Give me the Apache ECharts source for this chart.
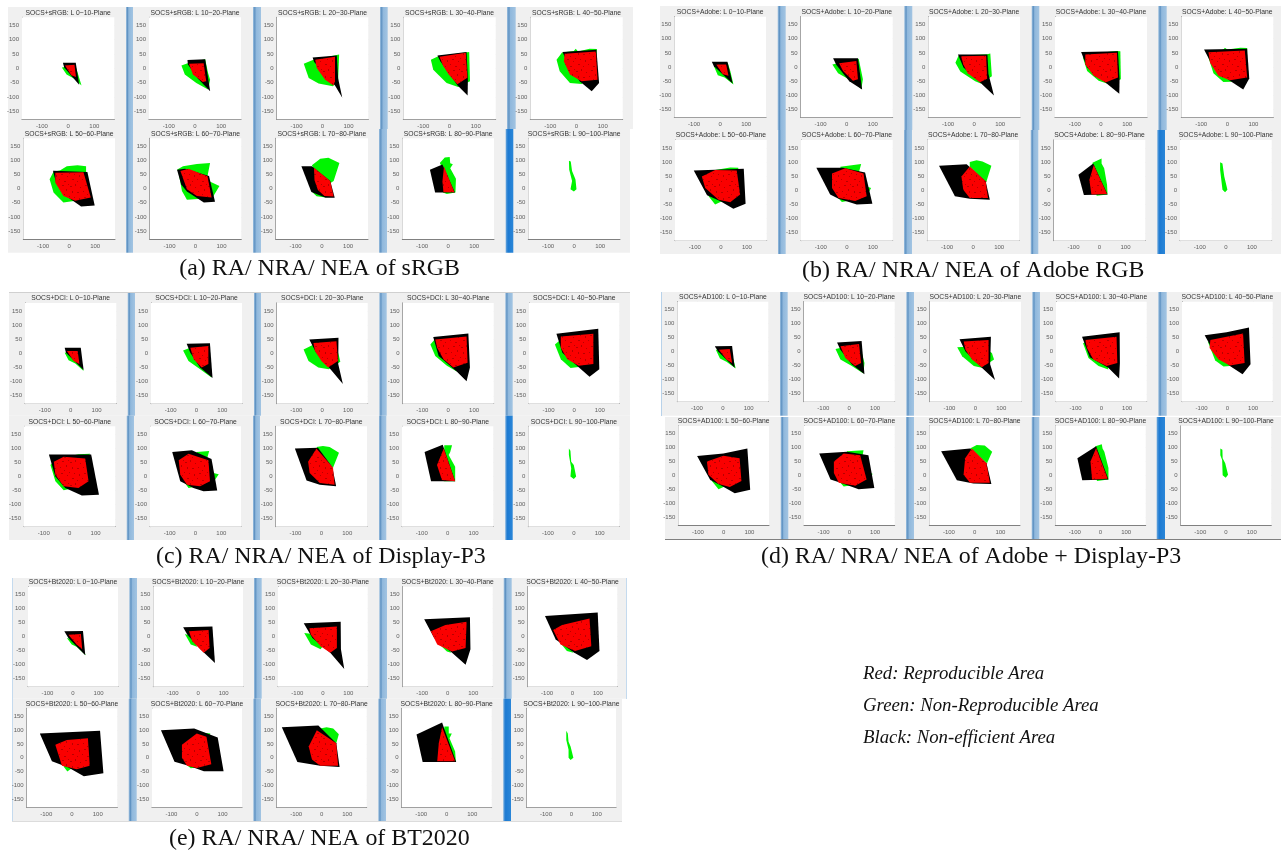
<!DOCTYPE html>
<html><head><meta charset="utf-8">
<style>html,body{margin:0;padding:0;background:#fff}#c{width:1281px;height:852px}</style>
<script src="https://cdn.jsdelivr.net/npm/echarts@6/dist/echarts.min.js"></script>
</head><body><div id="c"></div>
<script>
const planes = ['0~10','10~20','20~30','30~40','40~50','50~60','60~70','70~80','80~90','90~100'];
const yTicks = [-150,-100,-50,0,50,100,150];
const xTicks = [-100,0,100];
const groupNames = ['sRGB','Adobe','DCI','AD100','Bt2020'];
const captions = ['(a) RA/ NRA/ NEA of sRGB','(b) RA/ NRA/ NEA of Adobe RGB','(c) RA/ NRA/ NEA of Display-P3','(d) RA/ NRA/ NEA of Adobe + Display-P3','(e) RA/ NRA/ NEA of BT2020'];
const notes = ['Red: Reproducible Area','Green: Non-Reproducible Area','Black: Non-efficient Area'];

const sRGB_green = [
[[-24,3],[-6,-22],[22,-36],[51,-60],[36,-15],[27,10]],
[[-52,10],[-39,-22],[5,-51],[50,-74],[58,-40],[50,-16],[39,32],[-20,20]],
[[-72,16],[-53,-34],[-15,-53],[40,-63],[60,-42],[64,48],[-35,30]],
[[-71,30],[-62,-5],[-11,-51],[33,-65],[78,-45],[75,57],[-43,42]],
[[-76,30],[-64,-10],[-25,-51],[20,-55],[70,0],[78,67],[50,68],[6,59],[-3,68],[-10,60],[-55,55]],
[[-75,33],[-60,-14],[-22,-49],[25,-43],[50,0],[65,56],[65,79],[32,83],[-9,79],[-34,65],[-60,60]],
[[-65,56],[-52,-8],[-33,-39],[10,-37],[69,-26],[92,9],[55,25],[46,44],[56,91],[5,87],[-48,79],[-70,68]],
[[-38,83],[-6,106],[25,109],[67,91],[45,27],[33,20],[15,-31],[-20,-27],[-35,-14],[-10,30]],
[[-32,91],[-13,110],[6,112],[8,90],[18,86],[8,72],[30,35],[28,-14],[-5,-19],[-20,-14],[-20,70]],
[[-20,99],[-13,96],[-8,62],[5,33],[9,-2],[-1,-10],[-14,-2],[-8,27],[-19,67]]];
const sRGB_black = [
[[-20,19],[29,19],[42,-57],[-15,3]],
[[-29,29],[39,32],[58,-80],[10,-35],[-27,13]],
[[-38,38],[55,45],[60,-35],[76,-103],[48,-60],[-32,22]],
[[-46,45],[65,57],[70,-40],[69,-95],[31,-60],[-35,25]],
[[-53,57],[76,65],[86,-51],[58,-80],[12,-45],[-40,30]],
[[-62,63],[70,59],[98,-60],[46,-63],[-5,-30],[-50,20]],
[[-71,67],[-40,70],[52,45],[75,-46],[32,-49],[-33,-10],[-55,15]],
[[-78,79],[-38,79],[32,27],[49,-32],[15,-32],[-40,-12]],
[[-70,67],[-22,85],[26,-14],[-50,-14]],[]];
const sRGB_red = [
[[-12,10],[24,12],[30,-30],[12,-24]],
[[-23,16],[33,18],[43,-45],[30,-48],[-8,-22]],
[[-28,30],[48,40],[48,-45],[42,-60],[10,-40],[-22,1]],
[[-38,40],[62,54],[68,-33],[30,-56],[-3,-22],[-25,10]],
[[-45,51],[74,59],[80,-40],[19,-45],[-25,-22],[-48,24]],
[[-53,56],[55,58],[83,-31],[23,-43],[-22,-26],[-53,21]],
[[-58,62],[-27,70],[46,44],[62,-31],[5,-26],[-33,-2]],
[[-30,74],[32,27],[45,-28],[10,-26],[-15,-5],[-28,30]],
[[-16,78],[24,-13],[-18,-13],[-22,25]],[]];

const adobe_green = [
[[-24,3],[-9,-29],[17,-37],[51,-62],[39,-14],[29,15]],
[[-55,9],[-33,-22],[18,-49],[56,-78],[62,-43],[46,29],[0,20]],
[[-72,15],[-53,-16],[4,-50],[25,-58],[68,-33],[62,48],[50,45],[-60,40]],
[[-69,33],[-53,-14],[-9,-49],[29,-60],[76,-43],[74,56],[61,57],[-60,45]],
[[-76,44],[-53,-22],[-15,-53],[15,-52],[75,0],[76,67],[50,68],[0,62],[-9,68],[-15,62]],
[[-47,-21],[-22,-50],[25,-30],[67,75],[67,80],[36,81],[-22,72],[-30,20]],
[[-38,-23],[-19,-41],[50,-30],[83,-9],[93,8],[76,14],[45,60],[55,93],[-25,83],[-20,40]],
[[-13,100],[13,106],[36,102],[70,87],[50,28],[-13,84]],
[[-27,98],[8,113],[8,95],[18,78],[29,20],[31,-15],[-11,-19]],
[[-22,99],[-13,95],[-6,49],[6,2],[-3,-7],[-13,2],[-22,72]]];
const adobe_black = [
[[-32,19],[28,19],[48,-58],[-24,3]],
[[-52,31],[43,31],[59,-80],[10,-50],[-40,8]],
[[-62,44],[51,44],[55,-25],[76,-101],[23,-55],[-41,-2]],
[[-76,53],[65,56],[71,-43],[70,-95],[17,-55],[-53,-2]],
[[-89,62],[76,65],[84,-41],[61,-80],[10,-49],[-53,-2]],
[[-104,70],[88,76],[95,-47],[48,-65],[-3,-38],[-53,-17]],
[[-117,80],[-15,80],[70,63],[98,-47],[38,-50],[-32,-30],[-64,-15]],
[[-131,87],[-25,92],[48,32],[64,-33],[-13,-30],[-70,-21]],
[[-81,55],[-24,95],[31,-15],[-60,-16]],[]];
const adobe_red = [
[[-15,9],[23,9],[32,-31],[10,-26]],
[[-29,13],[37,21],[43,-43],[24,-49],[-14,-14]],
[[-50,38],[46,40],[50,-42],[22,-54],[-25,-22],[-42,10]],
[[-60,44],[61,50],[65,-37],[17,-55],[-28,-31],[-60,9]],
[[-72,52],[67,58],[76,-37],[10,-47],[-34,-31],[-66,15]],
[[-73,49],[-22,72],[61,70],[74,-15],[36,-42],[-9,-33],[-60,8]],
[[-57,60],[-6,78],[64,60],[76,-21],[32,-38],[-32,-27],[-57,8]],
[[-45,49],[-13,84],[48,32],[57,-27],[-13,-27],[-38,2]],
[[-22,90],[29,-13],[-31,-15],[-39,37]],[]];

const dci_green = [
[[-23,2],[-8,-24],[18,-36],[50,-62],[37,-21],[25,10]],
[[-52,10],[-31,-27],[14,-56],[58,-85],[39,8],[-24,20]],
[[-72,14],[-53,-27],[-15,-50],[25,-56],[70,-30],[65,-9],[50,40],[-35,30]],
[[-69,31],[-50,-9],[-5,-44],[33,-64],[40,0],[-50,52]],
[[-75,31],[-52,-21],[-14,-52],[18,-48],[0,20],[-52,49]],
[[-74,41],[-55,-17],[-23,-49],[20,-40],[60,50],[79,81],[34,79],[-55,60]],
[[-46,-17],[-27,-41],[40,-30],[75,-12],[90,8],[69,12],[43,58],[53,90],[5,87],[-10,40]],
[[-19,105],[6,108],[32,105],[68,84],[45,31],[-6,90]],
[[-13,111],[17,111],[10,87],[4,76],[29,35],[29,-17],[-15,-17]],
[[-19,99],[-13,91],[-10,52],[0,41],[9,0],[0,-9],[-13,0],[-10,29],[-19,76]]];
const dci_black = [
[[-23,20],[39,20],[50,-59],[-18,2]],
[[-38,34],[52,36],[62,-87],[14,-50],[-24,2]],
[[-50,49],[63,55],[62,-38],[80,-108],[28,-52],[-25,5]],
[[-58,58],[78,70],[84,-50],[71,-99],[33,-64],[-37,-9]],
[[-69,69],[94,87],[98,-56],[60,-83],[11,-44],[-46,2]],
[[-80,78],[83,78],[113,-65],[47,-67],[-17,-41],[-55,0]],
[[-90,87],[-14,93],[62,62],[84,-50],[31,-52],[-8,-41],[-59,-17]],
[[-102,99],[-13,102],[42,35],[57,-35],[-6,-29],[-57,-14]],
[[-89,87],[-19,113],[29,-17],[-64,-17]],[]];
const dci_red = [
[[-14,8],[27,8],[34,-38],[11,-27]],
[[-24,20],[46,26],[46,-38],[20,-50],[-11,-21]],
[[-34,37],[55,43],[61,-27],[23,-50],[-3,-27],[-28,8]],
[[-50,49],[71,60],[75,-33],[20,-50],[-18,-21],[-43,20]],
[[-52,60],[75,69],[75,-38],[18,-44],[-27,-21],[-52,20]],
[[-61,52],[-23,70],[60,64],[73,-17],[34,-41],[-23,-35],[-55,6]],
[[-65,58],[-27,81],[50,58],[56,-17],[18,-35],[-33,-29],[-59,6]],
[[-51,52],[-19,99],[45,31],[51,-29],[-6,-23],[-45,12]],
[[-15,99],[29,-17],[-22,-12],[-41,41]],[]];

const ad100_green = [
[[-27,7],[-11,-24],[14,-36],[50,-60],[36,-10],[10,10]],
[[-53,10],[-34,-28],[10,-51],[55,-78],[59,-40],[48,1],[0,20]],
[[-70,16],[-51,-16],[-6,-51],[25,-57],[72,-28],[64,-5],[20,20]],
[[-71,30],[-50,-22],[-11,-51],[27,-63],[20,0],[-50,40]],
[[-76,36],[-47,-31],[-15,-53],[10,-51],[-20,10]],
[[-46,-20],[-20,-49],[10,-37],[-20,0]],
[[-41,-20],[-22,-40],[50,-30],[84,-8],[90,6],[80,9],[51,70],[55,91],[-9,87],[-10,40]],
[[-18,97],[8,110],[39,108],[68,85],[48,44]],
[[-20,105],[5,112],[8,97],[15,85],[31,27],[31,-14],[-14,-20]],
[[-22,97],[-14,93],[-13,62],[-3,44],[8,3],[-1,-8],[-13,1],[-15,56],[-22,73]]];
const ad100_black = [
[[-31,19],[36,20],[46,-57],[-18,1]],
[[-47,33],[48,38],[59,-80],[10,-45],[-34,7]],
[[-61,44],[60,53],[57,-45],[76,-101],[25,-57],[-38,1]],
[[-75,53],[71,69],[72,-40],[69,-95],[27,-57],[-45,-20]],
[[-88,59],[-3,69],[84,86],[90,-45],[59,-80],[10,-51],[-50,-5]],
[[-103,70],[-1,79],[92,97],[103,-51],[43,-64],[-8,-37],[-52,-16]],
[[-117,79],[-9,85],[74,73],[97,-45],[36,-49],[-34,-26],[-73,-14]],
[[-130,87],[-18,97],[46,44],[65,-31],[-5,-29],[-69,-17]],
[[-90,62],[-17,105],[31,-14],[-71,-17]],[]];
const ad100_red = [
[[-15,7],[27,10],[36,-40],[14,-28]],
[[-34,19],[38,27],[46,-40],[23,-51],[-15,-22]],
[[-45,36],[51,42],[51,-40],[25,-55],[-13,-28],[-38,7]],
[[-62,42],[59,53],[62,-40],[20,-51],[-31,-28],[-56,13]],
[[-66,42],[61,65],[67,-40],[10,-49],[-34,-28],[-69,13]],
[[-65,50],[-1,71],[62,62],[69,-20],[24,-41],[-20,-31],[-59,3]],
[[-60,50],[-22,79],[42,73],[67,-14],[23,-37],[-41,-26],[-60,9]],
[[-37,62],[-11,97],[46,44],[59,-26],[-18,-26],[-43,3]],
[[-17,99],[28,-12],[-33,-14],[-39,50]],[]];

const bt2020_green = [
[[-24,-5],[-5,-28],[14,-36],[50,-66],[43,-51],[0,-10]],
[[-52,10],[-29,-28],[-4,-36],[-20,0]],
[[-73,13],[-47,-28],[-9,-45],[3,-30],[-40,10]],
[[-41,-20],[-3,-53],[13,-57],[0,-30]],
[[-50,-20],[-22,-51],[4,-57],[-20,-25]],
[[-33,-31],[-18,-49],[-1,-38],[-15,-20]],
[[-37,-29],[-24,-38],[-8,-35],[30,30],[50,79],[52,87],[24,90],[0,40]],
[[-6,105],[19,110],[45,105],[67,85],[57,52],[-6,87]],
[[-9,113],[8,113],[8,87],[20,87],[11,70],[33,23],[36,-15],[-18,-15]],
[[-20,97],[-14,87],[-11,58],[-3,41],[8,0],[-3,-8],[-11,0],[-11,29],[-20,64]]];
const bt2020_black = [
[[-34,19],[39,20],[48,-66],[-18,-5]],
[[-59,34],[56,36],[66,-94],[9,-45],[-42,7]],
[[-75,48],[70,53],[71,-45],[84,-115],[29,-57],[-41,-5]],
[[-92,62],[87,69],[89,-45],[70,-100],[17,-57],[-53,-5]],
[[-108,74],[99,86],[106,-51],[57,-83],[4,-55],[-66,-10]],
[[-125,87],[109,97],[122,-56],[46,-66],[-14,-35],[-78,-12]],
[[-141,99],[-11,105],[81,73],[104,-48],[27,-48],[-33,-29],[-88,-14]],
[[-156,110],[-13,116],[57,52],[70,-33],[-6,-29],[-95,-15]],
[[-118,84],[-18,127],[37,-15],[-94,-15]],[]];
const bt2020_red = [
[[-18,7],[31,10],[36,-45],[14,-28]],
[[-36,19],[41,24],[45,-40],[22,-57],[-23,-16]],
[[-53,30],[55,36],[55,-40],[29,-57],[-9,-34],[-47,7]],
[[-66,19],[-9,42],[74,53],[70,-40],[17,-53],[-41,-28]],
[[-76,24],[-41,42],[67,65],[74,-34],[10,-51],[-47,-28]],
[[-65,47],[-20,64],[62,70],[69,-29],[18,-41],[-39,-29]],
[[-59,47],[-1,87],[37,76],[56,-23],[-1,-37],[-39,-29],[-59,0]],
[[-51,41],[-19,99],[57,52],[64,-29],[-6,-29],[-38,-6]],
[[-18,110],[33,-12],[-37,-12],[-31,52]],[]];

const layers = [
 [sRGB_green,sRGB_black,sRGB_red],[adobe_green,adobe_black,adobe_red],[dci_green,dci_black,dci_red],
 [ad100_green,ad100_black,ad100_red],[bt2020_green,bt2020_black,bt2020_red]];

// A fixed, soft speckle tile for the texture of the red dots (style only)
const tile=document.createElement('canvas');tile.width=tile.height=23;
(function(){const c=tile.getContext('2d');c.fillStyle='#fa0000';c.fillRect(0,0,23,23);c.fillStyle='#b80000';
 [[1,2,2,1],[6,0,1,2],[11,3,1,1],[16,1,2,1],[20,5,1,2],[3,7,1,2],[8,8,2,1],[14,7,1,1],[18,10,1,1],[0,12,1,1],[5,13,1,1],[10,14,1,2],[15,13,2,1],[21,15,1,1],[3,18,2,1],[8,20,1,1],[13,18,1,1],[18,20,2,1],[22,0,1,1]]
 .forEach(p=>c.fillRect(p[0],p[1],p[2],p[3]));})();
const layerFills = ['#00f400','#000000',{image:tile,repeat:'repeat'}];

// Page layout (pixels), separate from the data
const layout = [
 {rows:[[17.3,119.3],[138.3,239]], xs:[[22,114.3],[149,241],[276.7,368.3],[403.3,495.7],[530.3,622.7],[23.3,115],[149.7,241.3],[275.7,368],[402.3,494],[528.3,620]],
  bg:[[8,7,633,129],[8,129,630,252.7]], sep:[[126,133],[253,261],[380,387.7],[507,515.7],[126,133],[253,261],[379,387],[505.7,513.3]]},
 {rows:[[16.7,117.3],[140,240.7]], xs:[[674.3,766],[800.7,892.7],[928.3,1020],[1055,1147],[1181.3,1273.3],[675,766.7],[801,892.7],[927.3,1019],[1053.7,1145.3],[1180,1271.7]],
  bg:[[660,6,1281,130],[660,130,1281,254]], sep:[[777.7,785.7],[904.3,912.3],[1031.7,1039.3],[1158.3,1166.7],[778,785.7],[904,912],[1030.7,1038.3],[1157.3,1165]]},
 {rows:[[303,403.7],[426.3,526.7]], xs:[[25,116.3],[151,242],[276.7,367.7],[402.7,493.7],[529,619.3],[24,115.3],[150,241],[275.7,367],[402,493.3],[528.3,619.3]],
  bg:[[9,292.3,630,415.7],[9,415.7,630,540]], sep:[[127.7,135],[254,261],[379.3,386.7],[505.3,512.7],[126.7,134],[253,260],[379,386.3],[505.3,512.7]]},
 {rows:[[301.7,401.7],[426,525]], xs:[[677.3,768.3],[803.7,894.7],[929.7,1021],[1056,1146.7],[1182,1272.7],[678.3,769],[804,894.7],[929.3,1020],[1055.3,1145.7],[1180.7,1271.3]],
  bg:[[661,292,1281,415.7],[665,417,1281,539]], sep:[[780,787.7],[906.3,914],[1032.3,1040],[1158.3,1166.7],[780.7,788.3],[906,914],[1031.7,1039.3],[1156.7,1165]]},
 {rows:[[586.7,686.7],[708.3,807.3]], xs:[[28,118],[153.3,243],[278,367.7],[402.7,492.7],[527.7,617.3],[26.7,117.3],[152,242],[276.7,366.7],[401.7,491.7],[526.7,616]],
  bg:[[12.3,578,626.7,698.7],[12.3,698.7,622,821.7]], sep:[[129.3,137],[254,261.7],[379.3,387],[503.7,511.7],[128.7,136.7],[253.3,261],[378.3,386],[503.3,511]]}
];
const capPos = [[179.3,269],[802,271],[156,557],[761,557],[169,839]];
const notePos = [[863,674],[863,706],[863,738]];
const XR = 176, YR = 178;

const grid=[],xAxis=[],yAxis=[],series=[],title=[],graphic=[];
const axLine={show:true,lineStyle:{color:'#808080',width:1}};
const split={show:true,lineStyle:{color:'#e2e2e2',width:1}};
const lab={color:'#5e5e5e',fontSize:6,fontFamily:'Liberation Sans'};
let gi=0;
layout.forEach((L,g)=>{
  L.bg.forEach(b=>graphic.push({type:'rect',z:-10,silent:true,shape:{x:b[0],y:b[1],width:b[2]-b[0],height:b[3]-b[1]},style:{fill:'#f0f0f0'}}));
  L.sep.forEach((s,i)=>{
    const bb=L.bg[i<4?0:1];
    const bright=i===7;
    graphic.push({type:'rect',z:-9,silent:true,shape:{x:s[0],y:bb[1],width:s[1]-s[0],height:bb[3]-bb[1]},style:{fill:new echarts.graphic.LinearGradient(0,0,1,0,bright?
      [{offset:0,color:'#6aa6dc'},{offset:.3,color:'#1c7ad2'},{offset:1,color:'#2a86d8'}]:
      [{offset:0,color:'#9cc0e0'},{offset:.22,color:'#5f92c2'},{offset:.4,color:'#90b8dc'},{offset:1,color:'#a2c4e2'}])}});
  });
  for(let p=0;p<10;p++){
    const [x0,x1]=L.xs[p],[y0,y1]=L.rows[p<5?0:1];
    grid.push({left:x0,top:y0,width:x1-x0,height:y1-y0,show:true,backgroundColor:'#fff',borderWidth:0,z:1});
    xAxis.push({type:'value',gridIndex:gi,min:-XR,max:XR,position:'bottom',axisLine:{...axLine,onZero:false},
      axisTick:{show:false,customValues:xTicks},axisLabel:{...lab,margin:4,customValues:xTicks},splitLine:split});
    yAxis.push({type:'value',gridIndex:gi,min:-YR,max:YR,position:'left',axisLine:{...axLine,onZero:false},
      axisTick:{show:false,customValues:yTicks},axisLabel:{...lab,margin:3,customValues:yTicks},splitLine:split});
    title.push({text:'SOCS+'+groupNames[g]+': L '+planes[p]+'-Plane',left:(x0+x1)/2,top:y0-8,textAlign:'center',padding:0,
      textStyle:{fontSize:6.75,fontWeight:'normal',color:'#333',fontFamily:'Liberation Sans'}});
    layers[g].forEach((arr,k)=>{
      const pts=arr[p];
      if(!pts.length) return;
      series.push({type:'custom',coordinateSystem:'cartesian2d',xAxisIndex:gi,yAxisIndex:gi,silent:true,clip:true,animation:false,z:3+k,
        encode:{x:0,y:1},data:pts,
        renderItem:(pr,api)=>pr.dataIndex===0?{type:'polygon',shape:{points:pts.map(q=>api.coord(q))},style:{fill:layerFills[k]}}:null});
    });
    gi++;
  }
});
// thin rules and slivers at the edge of some figures
[[665,539,616,1,'#808080'],[12,578,1,244,'#c4daee'],[626,578,1,121,'#c4daee'],[661,292,1,124,'#b8d2ea'],[9,292,621,1,'#d0d0d0'],[12,821,610,1,'#dcdcdc']]
 .forEach(r=>graphic.push({type:'rect',z:-8,silent:true,shape:{x:r[0],y:r[1],width:r[2],height:r[3]},style:{fill:r[4]}}));
captions.forEach((t,i)=>title.push({text:t,left:capPos[i][0],top:capPos[i][1]-12,padding:0,zlevel:1,
  textStyle:{fontSize:23.9,fontWeight:'normal',color:'#111',fontFamily:'Liberation Serif'}}));
notes.forEach((t,i)=>title.push({text:t,left:notePos[i][0],top:notePos[i][1]-9.5,padding:0,zlevel:1,
  textStyle:{fontSize:18.8,fontStyle:'italic',fontWeight:'normal',color:'#111',fontFamily:'Liberation Serif'}}));

const chart=echarts.init(document.getElementById('c'),null,{renderer:'canvas'});
chart.setOption({animation:false,backgroundColor:'#fff',title,grid,xAxis,yAxis,series,graphic:{elements:graphic}});
// The source figure is a soft screenshot: soften the panel layer, and the caption layer a little.
const cv=document.querySelectorAll('#c canvas');
if(cv[0]) cv[0].style.filter='blur(0.55px)';
if(cv[1]) cv[1].style.filter='blur(0.3px)';
</script></body></html>
